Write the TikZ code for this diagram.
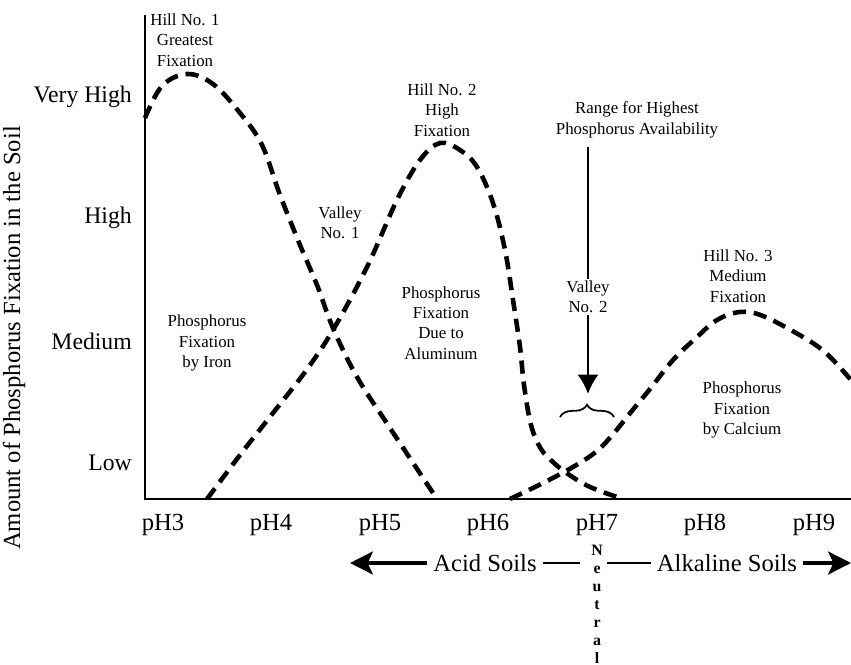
\documentclass[tikz,border=0pt]{standalone}
\usepackage{fontspec}
\setmainfont{Liberation Serif}
\usetikzlibrary{arrows.meta, decorations.pathreplacing, positioning}

\begin{document}
\begin{tikzpicture}[x=0.02cm, y=-0.02cm,
    fixcurve/.style={black, line width=2.6pt, dash pattern=on 7.5pt off 4.5pt},
    note/.style={align=center, font=\fontsize{9.6}{11.6}\selectfont, inner sep=1pt},
    lvl/.style={anchor=east, font=\fontsize{13.5}{16}\selectfont},
    phlabel/.style={font=\fontsize{14}{16}\selectfont},
    soil/.style={font=\fontsize{14}{16}\selectfont}]
    \useasboundingbox (0,0) rectangle (851,665);

    % 1. Axes
    \draw[black, line width=1.2pt] (145,15) -- (145,499) -- (851,499);
    \node[rotate=90, font=\fontsize{14}{16}\selectfont] (ytitle) at (14,338) {Amount of Phosphorus Fixation in the Soil};
    \node[lvl] (vhigh) at (138,97) {Very High};
    \node[lvl] (high) at (138,218) {High};
    \node[lvl] (medium) at (138,341) {Medium};
    \node[lvl] (low) at (138,463) {Low};
    \foreach \n/\px in {3/163, 4/271, 5/380, 6/488, 7/597, 8/705, 9/814}
        \node[phlabel] (ph\n) at (\px,525) {pH\n};

    % 2. Fixation curves: iron, aluminum, calcium
    \draw[fixcurve] plot[smooth, tension=0.6] coordinates {(145,118) (162,86) (187,74) (213,84) (240,113) (262,145) (280,195) (300,245) (317,285) (333,328) (357,377) (390,428) (437,499)};
    \draw[fixcurve] plot[smooth, tension=0.6] coordinates {(207,499) (240,455) (273,413) (305,372) (333,330) (367,267) (397,200) (420,160) (440,143) (460,150) (477,167) (493,203) (505,250) (513,300) (520,347) (524,385) (531,425) (541,449) (554,463) (568,474) (590,487) (623,499)};
    \draw[fixcurve] plot[smooth, tension=0.6] coordinates {(510,499) (543,483) (573,467) (597,451) (614,433) (631,412) (650,389) (673,360) (697,337) (717,320) (740,312) (763,316) (803,337) (827,354) (851,380)};

    % 3. Labels on the graph
    \node[note] (hillA) at (185,40) {Hill No. 1\\Greatest\\Fixation};
    \node[note] (hillB) at (442,110) {Hill No. 2\\High\\Fixation};
    \node[note] (hillC) at (738,276) {Hill No. 3\\Medium\\Fixation};
    \node[note] (valleyA) at (340,223) {Valley\\No. 1};
    \node[note] (iron) at (207,343) {Phosphorus\\Fixation\\by Iron};
    \node[note] (alum) at (441,323) {Phosphorus\\Fixation\\Due to\\Aluminum};
    \node[note] (calcium) at (742,410) {Phosphorus\\Fixation\\by Calcium};
    \node[note] (range) at (637,120) {Range for Highest\\Phosphorus Availability};
    \node[note] (valleyB) at (588,297) {Valley\\No. 2};

    % 4. Arrow down to the brace
    \coordinate (braceL) at (560,417);
    \coordinate (braceR) at (614,417);
    \coordinate (tip) at (588,394);
    \draw[line width=1.5pt, shorten <=4pt] (range.south -| valleyB) -- (valleyB);
    \draw[line width=1.5pt, -{Latex[length=11pt, width=12pt]}] (valleyB) -- (tip);
    \draw[line width=1pt, decorate, decoration={brace, amplitude=7pt}] (braceL) -- (braceR);

    % 5. Soil reaction scale
    \node[soil] (acid) at (485,563) {Acid Soils};
    \node[soil] (alkaline) at (727,563) {Alkaline Soils};
    \node[anchor=north, align=center, inner sep=0pt, font=\fontsize{9}{10.2}\selectfont\bfseries] (neutral) at (597,545) {N\\e\\u\\t\\r\\a\\l};
    \coordinate (acidEnd) at (350,563);
    \coordinate (alkEnd) at (851,563);
    \draw[line width=2.2pt, -{Stealth[length=13pt, width=13pt, inset=3pt]}] (acid.west) -- (acidEnd);
    \draw[line width=2.2pt, -{Stealth[length=13pt, width=13pt, inset=3pt]}] (alkaline.east) -- (alkEnd);
    \draw[line width=0.9pt, shorten >=6pt] (acid.east) -- (acid.east -| neutral.west);
    \draw[line width=0.9pt, shorten >=2pt] (alkaline.west) -- (alkaline.west -| neutral.east);

\end{tikzpicture}
\end{document}
